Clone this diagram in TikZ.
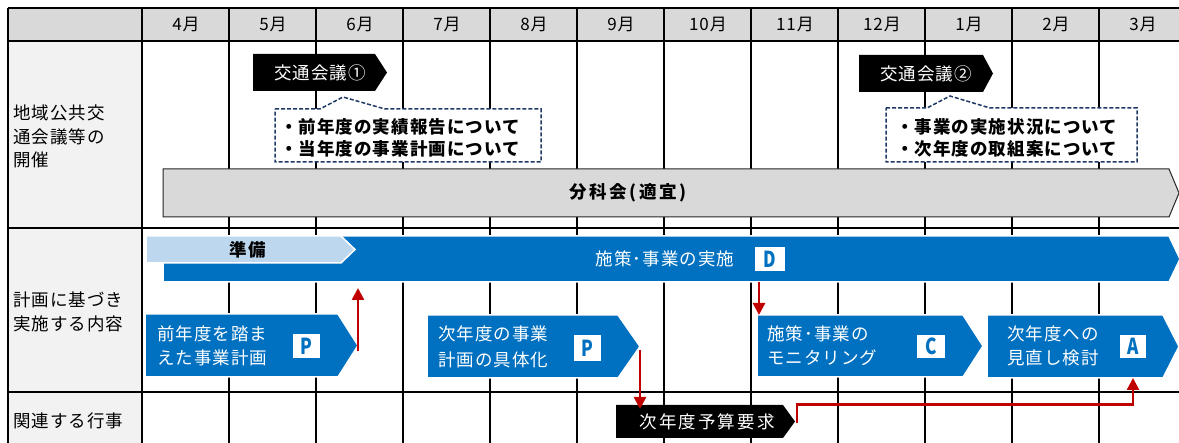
\documentclass[tikz,border=0pt]{standalone}
\usepackage{fontspec}
\setmainfont{Noto Sans CJK JP}[LetterSpace=6]
\usetikzlibrary{arrows.meta,calc}
\definecolor{hdr}{HTML}{D9D9D9}
\definecolor{lab}{HTML}{F2F2F2}
\definecolor{pblue}{HTML}{0070C0}
\definecolor{lblue}{HTML}{BDD7EE}
\definecolor{dred}{HTML}{C00000}
\definecolor{navy}{HTML}{203864}
\definecolor{gborder}{HTML}{262626}
\pgfdeclarelayer{grid}\pgfdeclarelayer{shapes}
\pgfsetlayers{grid,shapes,main}
\newcommand\arrowshape[3]{%
 \begin{pgfonlayer}{shapes}
 \path[#3] (#1.north west) -- ([xshift=-#2pt]#1.north east) -- (#1.east) -- ([xshift=-#2pt]#1.south east) -- (#1.south west) -- cycle;
 \end{pgfonlayer}}
\newcommand\fs[2]{\fontsize{#1}{#2}\selectfont}
\tikzset{
 area/.style={rectangle, inner sep=0pt, outer sep=0pt, anchor=north west},
 gridline/.style={line width=1.6pt, black},
 bluefill/.style={fill=pblue, draw=white, line width=1.5pt},
 tagfill/.style={fill=black},
 calloutline/.style={draw=navy, dash pattern=on 4pt off 2pt, line width=1.5pt, fill=white},
 lettersq/.style={rectangle, fill=white, inner sep=0pt, text=pblue, font=\fs{22}{22}\bfseries\addfontfeatures{FakeStretch=0.78}},
 monthlbl/.style={font=\fs{17}{17}, inner sep=0pt},
 rowlbl/.style={anchor=west, align=left, inner sep=0pt},
 whitetxt/.style={text=white, inner sep=0pt},
 boxtxt/.style={anchor=west, align=left, inner sep=0pt, text=white},
 redarrow/.style={draw=dred, line width=2.5pt, -{Triangle[width=12pt,length=12pt]}},
}
\begin{document}
\begin{tikzpicture}[x=1pt,y=-1pt]
\useasboundingbox (0,0) rectangle (1179,443);
% ---------- grid ----------
\begin{pgfonlayer}{grid}
\fill[hdr] (8,8) rectangle (1179,41);
\fill[lab] (8,41) rectangle (142,443);
\foreach \yy in {8,41,228,392} \draw[gridline] (8,\yy) -- (1179,\yy);
\draw[gridline] (8,8) -- (8,443);
\draw[gridline] (142,8) -- (142,443);
\foreach \k in {1,...,11} \draw[gridline] ({142+87*\k},8) -- ({142+87*\k},443);
\end{pgfonlayer}
% month labels
\foreach \m [count=\k from 0] in {4月,5月,6月,7月,8月,9月,10月,11月,12月,1月,2月,3月}
  \node[monthlbl] (m\k) at ({186+87*\k},24.5) {\m};
% row labels
\node[rowlbl, font=\fs{17.5}{23.5}] (r1) at (13,136.5) {地域公共交\\通会議等の\\開催};
\node[rowlbl, font=\fs{17.5}{24}] (r2) at (13,312) {計画に基づき\\実施する内容};
\node[rowlbl, font=\fs{17.5}{24}] (r3) at (13,421) {関連する行事};
% ---------- row 1 ----------
\node[area, minimum width=134pt, minimum height=37pt] (tag1) at (253,54) {};
\arrowshape{tag1}{12}{tagfill}
\node[whitetxt, font=\fs{17.5}{17.5}] (tag1t) at (320,72.5) {交通会議①};
\node[area, minimum width=266pt, minimum height=53pt] (co1) at (275,109) {};
\begin{pgfonlayer}{shapes}
\path[calloutline] (co1.north west) -- (320,109) -- (343,97) -- (385,109) -- (co1.north east) -- (co1.south east) -- (co1.south west) -- cycle;
\end{pgfonlayer}
\node[rowlbl, font=\fs{17.5}{22}\bfseries] (co1t) at (280,138) {・前年度の実績報告について\\・当年度の事業計画について};
\node[area, minimum width=134pt, minimum height=37pt] (tag2) at (859,55) {};
\arrowshape{tag2}{10}{tagfill}
\node[whitetxt, font=\fs{17.5}{17.5}] (tag2t) at (926,73.5) {交通会議②};
\node[area, minimum width=251pt, minimum height=54pt] (co2) at (886,108) {};
\begin{pgfonlayer}{shapes}
\path[calloutline] (co2.north west) -- (927,108) -- (950,96) -- (990,108) -- (co2.north east) -- (co2.south east) -- (co2.south west) -- cycle;
\end{pgfonlayer}
\node[rowlbl, font=\fs{17.5}{22}\bfseries] (co2t) at (896,138) {・事業の実施状況について\\・次年度の取組案について};
\node[area, minimum width=1016pt, minimum height=48pt] (bunka) at (163,169) {};
\arrowshape{bunka}{10}{fill=hdr, draw=gborder, line width=1pt}
\node[inner sep=0pt, font=\fs{17.5}{17.5}\bfseries\addfontfeatures{LetterSpace=14}] (bunkat) at (628,193) {分科会(適宜)};
% ---------- row 2 ----------
\node[area, minimum width=1017pt, minimum height=46pt] (bar) at (163,236) {};
\arrowshape{bar}{11}{bluefill}
\node[whitetxt, font=\fs{17.5}{17.5}] (bart) at (665,258.5) {施策･事業の実施};
\node[lettersq, minimum width=30pt, minimum height=24pt] (dsq) at (770,259) {D};
\node[area, minimum width=209pt, minimum height=27pt] (junbi) at (146,236) {};
\arrowshape{junbi}{14}{fill=lblue, draw=white, line width=1.5pt}
\node[inner sep=0pt, font=\fs{17.5}{17.5}\bfseries] (junbit) at (248,249.5) {準備};
\node[area, minimum width=213pt, minimum height=63pt] (p1) at (145,314) {};
\arrowshape{p1}{20}{bluefill}
\node[boxtxt, font=\fs{17.5}{24}] (p1t) at (157,346) {前年度を踏ま\\えた事業計画};
\node[lettersq, minimum width=27pt, minimum height=24pt] (psq1) at (306.5,346) {P};
\node[area, minimum width=213pt, minimum height=63pt] (p2) at (427,315) {};
\arrowshape{p2}{22}{bluefill}
\node[boxtxt, font=\fs{17.5}{26}] (p2t) at (438,346.5) {次年度の事業\\計画の具体化};
\node[lettersq, minimum width=27pt, minimum height=26pt] (psq2) at (587.5,348) {P};
\node[area, minimum width=226pt, minimum height=62pt] (cbox) at (757,315) {};
\arrowshape{cbox}{20}{bluefill}
\node[boxtxt, font=\fs{17.5}{24}] (ct) at (767,345.5) {施策･事業の\\モニタリング};
\node[lettersq, minimum width=28pt, minimum height=23pt] (csq) at (931,346.5) {C};
\node[area, minimum width=192pt, minimum height=63pt] (abox) at (987,315) {};
\arrowshape{abox}{16}{bluefill}
\node[boxtxt, font=\fs{17.5}{24}] (at) at (1007,345.5) {次年度への\\見直し検討};
\node[lettersq, minimum width=26pt, minimum height=23pt] (asq) at (1133,346.5) {A};
% ---------- row 3 ----------
\node[area, minimum width=179pt, minimum height=33pt] (yosan) at (616,405) {};
\arrowshape{yosan}{12}{tagfill}
\node[whitetxt, font=\fs{17.5}{17.5}\addfontfeatures{LetterSpace=12}] (yosant) at (707,421.5) {次年度予算要求};
% ---------- red connectors ----------
\draw[redarrow] ([yshift=-6pt]p1.east) -- ([yshift=-6pt]p1.east |- bar.south);
\draw[redarrow] ([xshift=2pt]cbox.north west |- bar.south) -- ([xshift=2pt]cbox.north west);
\draw[redarrow] ([yshift=-4pt]p2.east) -- ([yshift=-4pt]p2.east |- yosan.north);
\draw[redarrow] ([xshift=2pt,yshift=-2pt]yosan.east) -- ++(0,-19) -| (asq.center |- abox.south);
\end{tikzpicture}
\end{document}
